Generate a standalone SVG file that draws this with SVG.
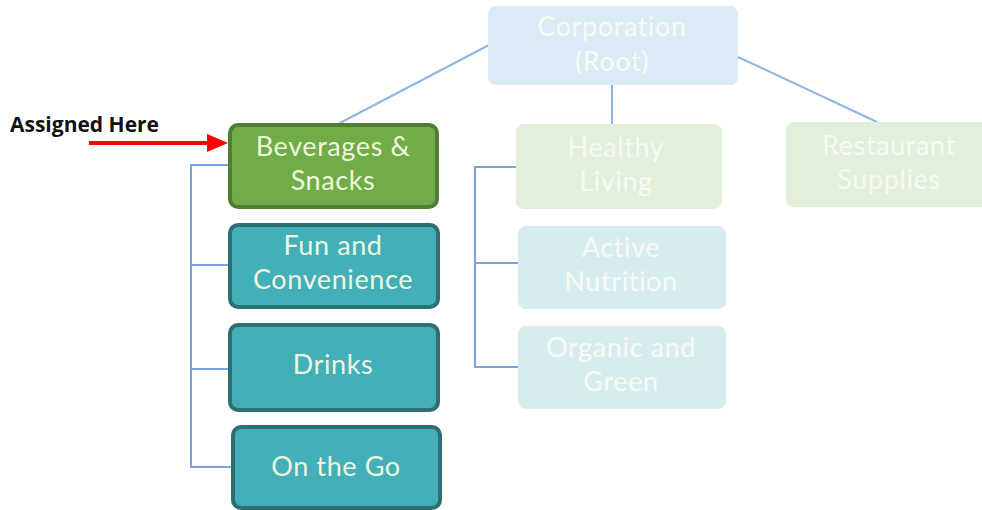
<svg xmlns="http://www.w3.org/2000/svg" width="982" height="510" viewBox="0 0 982 510">
<defs>
<style>
.t{font-family:Lato,"Open Sans",sans-serif;font-size:27px;letter-spacing:0.6px;text-anchor:middle}
.dark{fill:#EEF6DF}
.pale{fill:#F6FAF3}
.green{fill:#70AD47;stroke:#507F33;stroke-width:4}
.teal{fill:#43AFB8;stroke:#2F6E72;stroke-width:4}
.pg{fill:#E2EFDA}
.pb{fill:#DAEBF6}
.pt{fill:#D6ECEE}
.c{fill:none;stroke:#74A5DC;stroke-width:2}
.cl{fill:none;stroke:#8FB6E2;stroke-width:2}
</style>
</defs>
<rect width="982" height="510" fill="#FFFFFF"/>
<g id="connectors">
<line class="cl" x1="489" y1="45" x2="338" y2="124"/>
<line class="cl" x1="612" y1="85" x2="612" y2="124"/>
<line class="cl" x1="738" y1="57" x2="877" y2="122"/>
<path class="c" d="M229,165 H191 V467 H231 M191,265 H228 M191,369 H228"/>
<path class="c" d="M516,167 H475 V367 H518 M475,263 H518"/>
<line x1="89" y1="143" x2="210" y2="143" stroke="#FF0000" stroke-width="4"/>
<polygon points="207,134 228,143 207,152" fill="#FF0000"/>
</g>
<g id="label-assigned">
<text x="10" y="132" font-family="'Open Sans','Noto Sans',sans-serif" font-size="21" font-weight="bold" fill="#111">Assigned Here</text>
</g>
<g id="root">
<rect class="pb" x="488" y="6" width="250" height="79" rx="8"/>
<text class="t pale" x="612" y="36">Corporation</text>
<text class="t pale" x="612" y="71">(Root)</text>
</g>
<g id="beverages">
<rect class="green" x="230" y="125" width="207" height="82" rx="8"/>
<text class="t dark" x="333" y="156">Beverages &amp;</text>
<text class="t dark" x="333" y="190">Snacks</text>
</g>
<g id="fun">
<rect class="teal" x="230" y="225" width="208" height="82" rx="8"/>
<text class="t dark" x="333" y="255">Fun and</text>
<text class="t dark" x="333" y="289">Convenience</text>
</g>
<g id="drinks">
<rect class="teal" x="230" y="325" width="208" height="85" rx="8"/>
<text class="t dark" x="333" y="374">Drinks</text>
</g>
<g id="onthego">
<rect class="teal" x="233" y="427" width="207" height="81" rx="8"/>
<text class="t dark" x="336" y="476">On the Go</text>
</g>
<g id="healthy">
<rect class="pg" x="516" y="124" width="206" height="85" rx="8"/>
<text class="t pale" x="616" y="157">Healthy</text>
<text class="t pale" x="616" y="191">Living</text>
</g>
<g id="active">
<rect class="pt" x="518" y="226" width="208" height="83" rx="8"/>
<text class="t pale" x="621" y="257">Active</text>
<text class="t pale" x="621" y="291">Nutrition</text>
</g>
<g id="organic">
<rect class="pt" x="518" y="326" width="208" height="83" rx="8"/>
<text class="t pale" x="621" y="357">Organic and</text>
<text class="t pale" x="621" y="391">Green</text>
</g>
<g id="restaurant">
<rect class="pg" x="786" y="122" width="206" height="85" rx="8"/>
<text class="t pale" x="889" y="155">Restaurant</text>
<text class="t pale" x="889" y="189">Supplies</text>
</g>
</svg>
